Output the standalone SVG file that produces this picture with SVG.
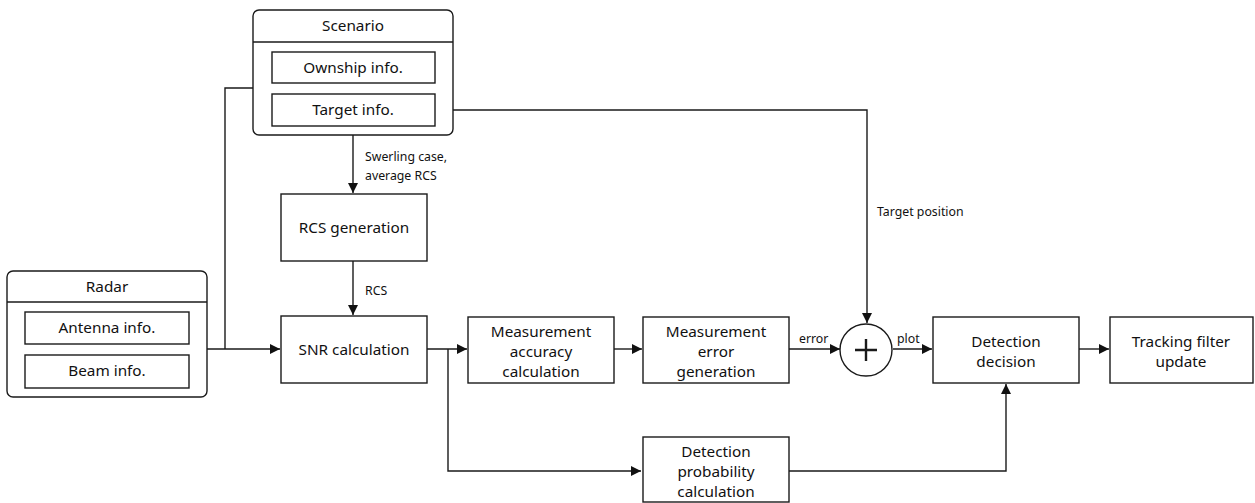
<svg xmlns="http://www.w3.org/2000/svg" width="1255" height="503" viewBox="0 0 1255 503">
<style>
.b{fill:#fff;stroke:#1a1a1a;stroke-width:1.4}
.c{fill:none;stroke:#1a1a1a;stroke-width:1.4}
text{font-family:"Noto Sans","DejaVu Sans",sans-serif;font-size:15.3px;fill:#111;text-anchor:middle}
.l{font-size:12.3px;text-anchor:start}
</style>
<defs>
<marker id="a" viewBox="0 0 10 10" refX="10" refY="5" markerWidth="10" markerHeight="10" markerUnits="userSpaceOnUse" orient="auto">
<path d="M0,0 L10,5 L0,10 z" fill="#111"/>
</marker>
</defs>
<g id="connectors">
<path class="c" d="M253,88 H225 V349"/>
<path class="c" d="M207,349 H280" marker-end="url(#a)"/>
<path class="c" d="M353,126 V193" marker-end="url(#a)"/>
<path class="c" d="M353,261 V315" marker-end="url(#a)"/>
<path class="c" d="M435,110 H867 V323" marker-end="url(#a)"/>
<path class="c" d="M427,349 H467" marker-end="url(#a)"/>
<path class="c" d="M448,349 V471 H641" marker-end="url(#a)"/>
<path class="c" d="M614,349 H642" marker-end="url(#a)"/>
<path class="c" d="M789,349 H840" marker-end="url(#a)"/>
<path class="c" d="M893,349 H932" marker-end="url(#a)"/>
<path class="c" d="M1079,349 H1109" marker-end="url(#a)"/>
<path class="c" d="M789,471 H1006 V384" marker-end="url(#a)"/>
<text class="l" x="365" y="161">Swerling case,</text>
<text class="l" x="365" y="180">average RCS</text>
<text class="l" x="365" y="295">RCS</text>
<text class="l" x="877" y="216">Target position</text>
<text class="l" x="799" y="343">error</text>
<text class="l" x="897" y="343">plot</text>
</g>
<g id="scenario">
<rect class="b" x="253" y="10" width="200" height="125" rx="6"/>
<line class="c" x1="253" y1="42" x2="453" y2="42"/>
<text x="353" y="31">Scenario</text>
</g>
<g id="ownship">
<rect class="b" x="272" y="52" width="163" height="31"/>
<text x="353" y="73">Ownship info.</text>
</g>
<g id="target">
<rect class="b" x="272" y="94" width="163" height="32"/>
<text x="353" y="115">Target info.</text>
</g>
<g id="radar">
<rect class="b" x="7" y="271" width="200" height="126" rx="6"/>
<line class="c" x1="7" y1="302" x2="207" y2="302"/>
<text x="107" y="292">Radar</text>
</g>
<g id="antenna">
<rect class="b" x="25" y="312" width="164" height="32"/>
<text x="107" y="333">Antenna info.</text>
</g>
<g id="beam">
<rect class="b" x="25" y="355" width="164" height="33"/>
<text x="107" y="376">Beam info.</text>
</g>
<g id="rcs">
<rect class="b" x="281" y="194" width="146" height="67"/>
<text x="354" y="233">RCS generation</text>
</g>
<g id="snr">
<rect class="b" x="281" y="316" width="146" height="67"/>
<text x="354" y="355">SNR calculation</text>
</g>
<g id="accuracy">
<rect class="b" x="468" y="317" width="146" height="66"/>
<text x="541" y="337">Measurement</text>
<text x="541" y="357">accuracy</text>
<text x="541" y="377">calculation</text>
</g>
<g id="errgen">
<rect class="b" x="643" y="317" width="146" height="66"/>
<text x="716" y="337">Measurement</text>
<text x="716" y="357">error</text>
<text x="716" y="377">generation</text>
</g>
<g id="sum">
<circle class="b" cx="866" cy="350" r="26"/>
<path class="c" d="M855,350 H877 M866,339 V361" style="stroke-width:2.4"/>
</g>
<g id="decision">
<rect class="b" x="933" y="317" width="146" height="66"/>
<text x="1006" y="347">Detection</text>
<text x="1006" y="367">decision</text>
</g>
<g id="tracking">
<rect class="b" x="1110" y="317" width="143" height="66"/>
<text x="1181" y="347">Tracking filter</text>
<text x="1181" y="367">update</text>
</g>
<g id="probability">
<rect class="b" x="643" y="437" width="146" height="65"/>
<text x="716" y="457">Detection</text>
<text x="716" y="477">probability</text>
<text x="716" y="497">calculation</text>
</g>
</svg>
